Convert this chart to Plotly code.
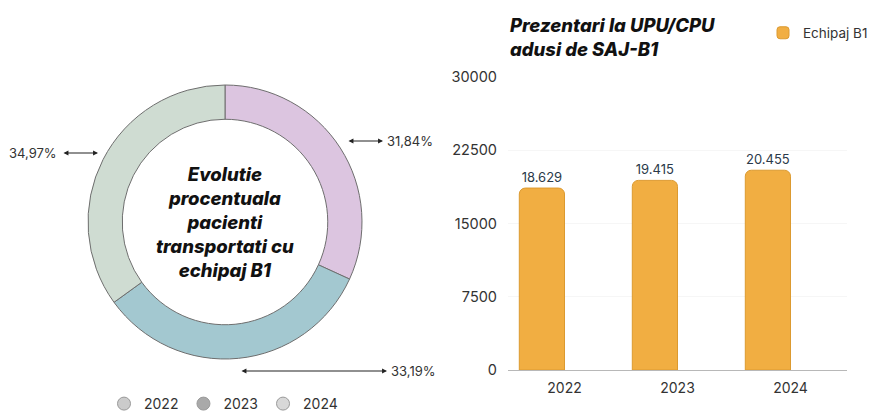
import plotly.graph_objects as go

W, H = 881, 416

# donut data
years = ["2022", "2023", "2024"]
pct = [31.84, 33.19, 34.97]
slice_colors = ["#dcc5e0", "#a3c8d0", "#cfdcd2"]
legend_dot_colors = ["#cbcbcb", "#a9a9a9", "#d8d8d8"]

# bar data
bar_years = ["2022", "2023", "2024"]
bar_values = [18629, 19415, 20455]
y_ticks = [0, 7500, 15000, 22500, 30000]

# page body adds an 8px margin, so screen coords are shifted
OFF = 8


def px(x):
    return (x - OFF) / W


def py(y):
    return 1 - (y - OFF) / H


fig = go.Figure()

# donut, drawn clockwise from 12 o'clock
cx, cy, r = 225, 222, 137
fig.add_trace(go.Pie(
    labels=years,
    values=pct,
    hole=0.75,
    sort=False,
    direction="clockwise",
    rotation=0,
    marker=dict(colors=slice_colors, line=dict(color="#6e6e6e", width=1)),
    textinfo="none",
    showlegend=False,
    domain=dict(x=[px(cx - r), px(cx + r)], y=[py(cy + r), py(cy - r)]),
))

# circle legend for the donut (dummy traces on a hidden axis)
for yr, c in zip(years, legend_dot_colors):
    fig.add_trace(go.Scatter(
        x=[None], y=[None], mode="markers", name=yr,
        marker=dict(symbol="circle", size=13, color=c, line=dict(color="#9a9a9a", width=1)),
        xaxis="x2", yaxis="y2", legend="legend2",
    ))

# bars, shifted left inside each category like the original
fig.add_trace(go.Bar(
    x=bar_years,
    y=bar_values,
    name="Echipaj B1",
    width=0.4,
    offset=-0.4,
    marker=dict(color="#f1ae42", line=dict(color="#dc9a30", width=1), cornerradius=6),
    texttemplate="%{y:,}",
    textposition="outside",
    textfont=dict(size=13, color="#2b3a4a"),
    cliponaxis=False,
))

bold_it = dict(color="#111111", family="Inter", weight=800, style="italic")
annotations = [
    dict(text="Evolutie<br>procentuala<br>pacienti<br>transportati cu<br>echipaj B1",
         x=px(cx), y=py(cy), xref="paper", yref="paper", showarrow=False,
         xanchor="center", yanchor="middle",
         font=dict(size=18.5, **bold_it), align="center"),
    dict(text="Prezentari la UPU/CPU<br>adusi de SAJ-B1",
         x=px(508), y=py(12), xref="paper", yref="paper", xanchor="left", yanchor="top",
         showarrow=False, align="left",
         font=dict(size=18.5, **bold_it)),
]

# percentage labels with double arrows
lab_font = dict(size=13, color="#333333", family="Inter")
pct_txt = [f"{v:.2f}".replace(".", ",") + "%" for v in pct]
annotations += [
    dict(text=pct_txt[0], x=px(385), y=py(141), xref="paper", yref="paper",
         xanchor="left", yanchor="middle", showarrow=False, font=lab_font),
    dict(text=pct_txt[1], x=px(389), y=py(371), xref="paper", yref="paper",
         xanchor="left", yanchor="middle", showarrow=False, font=lab_font),
    dict(text=pct_txt[2], x=px(59), y=py(153), xref="paper", yref="paper",
         xanchor="right", yanchor="middle", showarrow=False, font=lab_font),
]
for x0, x1, yy in [(347, 383, 141), (240, 387, 371), (62, 98, 153)]:
    annotations.append(dict(
        text="", x=px(x1), y=py(yy), xref="paper", yref="paper",
        ax=x0 - x1, ay=0, showarrow=True, arrowside="end+start",
        arrowhead=2, arrowsize=0.9, arrowwidth=1.1, arrowcolor="#222222",
    ))

fig.update_layout(
    width=W, height=H,
    margin=dict(l=0, r=0, t=0, b=0, autoexpand=False),
    paper_bgcolor="white",
    plot_bgcolor="white",
    separators=",.",
    font=dict(family="Inter", size=14, color="#333333"),
    annotations=annotations,
    xaxis=dict(
        domain=[px(508), px(847)],
        type="category",
        showgrid=False,
        showline=False,
        ticks="",
        ticklabelstandoff=8,
        tickfont=dict(size=14, color="#333333"),
    ),
    yaxis=dict(
        domain=[py(370), py(77)],
        range=[0, 30000],
        tickvals=y_ticks,
        ticktext=[str(v) for v in y_ticks],
        showgrid=True,
        gridcolor="#f6f6f6",
        zeroline=True,
        zerolinecolor="#b8b8b8",
        zerolinewidth=1,
        ticks="",
        ticklabelstandoff=10,
        tickfont=dict(size=14.5, color="#333333"),
    ),
    xaxis2=dict(domain=[0, 0.01], visible=False),
    yaxis2=dict(domain=[0, 0.01], visible=False, anchor="x2"),
    legend=dict(
        x=px(763), y=py(33), xanchor="left", yanchor="middle",
        font=dict(size=13.5, color="#333333"),
        bgcolor="rgba(0,0,0,0)", itemwidth=30,
    ),
    legend2=dict(
        orientation="h",
        x=px(104), y=py(404), xanchor="left", yanchor="middle",
        font=dict(size=14, color="#333333"),
        bgcolor="rgba(0,0,0,0)", itemwidth=30,
    ),
)

fig.write_html("out.html")
